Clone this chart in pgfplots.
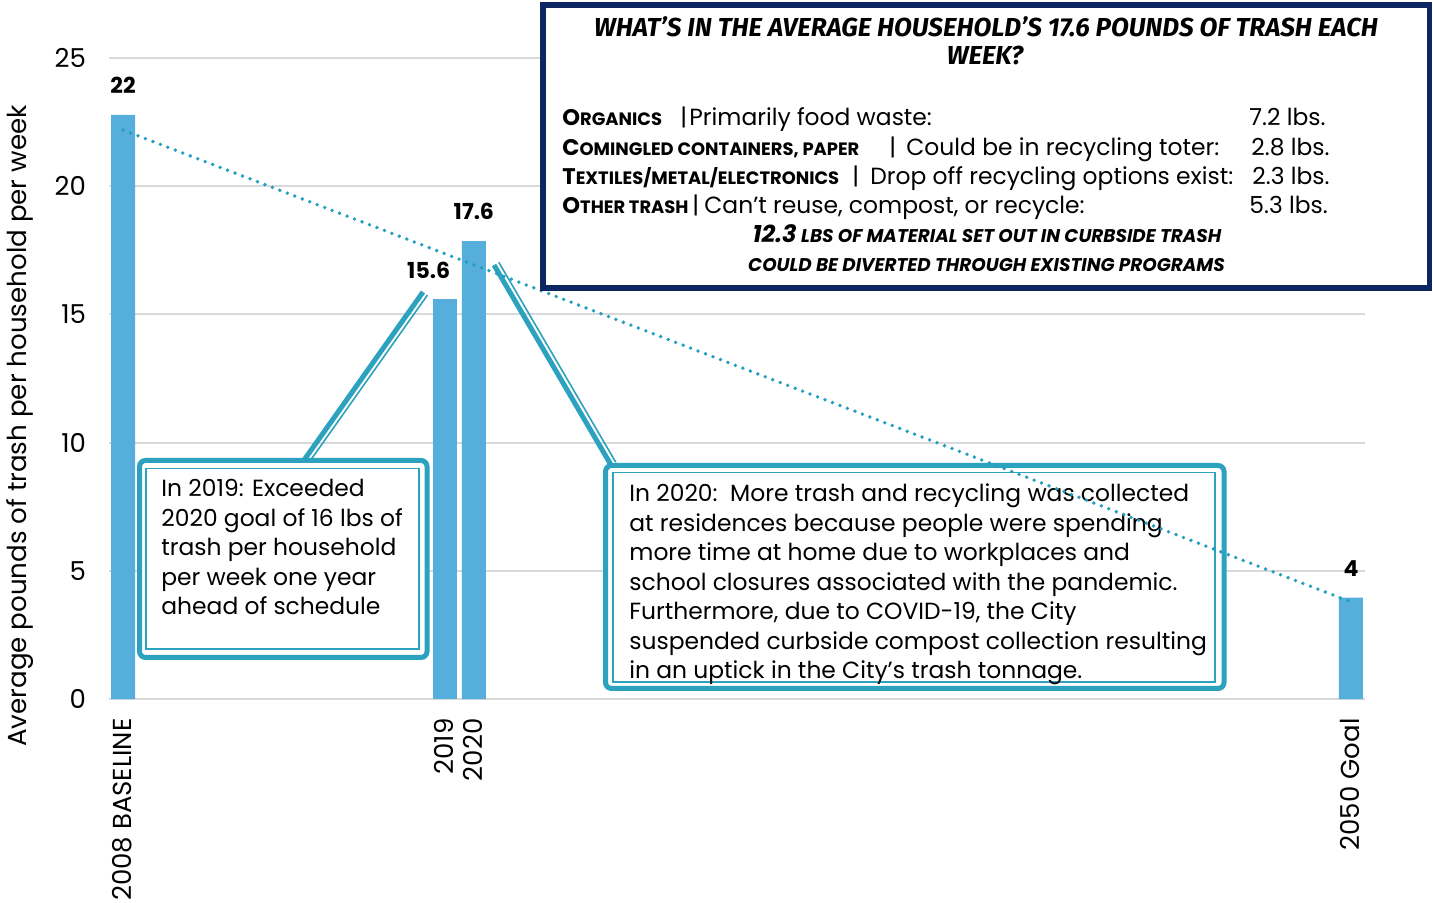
\documentclass[border=0pt]{standalone}
\usepackage{pgfplots}
\pgfplotsset{compat=1.18}
\usepackage{fontspec}
\setmainfont{Poppins}
\newfontfamily\titlefont{Fira Sans}

\definecolor{barblue}{RGB}{86,174,220}
\definecolor{calloutteal}{RGB}{44,162,190}
\definecolor{trendteal}{RGB}{36,158,192}
\definecolor{navy}{RGB}{12,38,100}
\definecolor{gridgray}{RGB}{217,217,217}

\pgfplotsset{
  frame/.style={width=628pt, height=320.5pt, scale only axis,
    xmin=2007.52, xmax=2050.48, ymin=0, ymax=25, enlargelimits=false},
}
\tikzset{
  txt/.style={inner sep=0pt, anchor=base west, font=\fontsize{11.7}{14}\selectfont},
  ctr/.style={inner sep=0pt, anchor=base},
}
% fake small caps: big first letter, smaller rest
\newcommand\scl[2]{{\fontsize{11.3}{12}\selectfont #1}{\fontsize{8.95}{10}\selectfont #2}}

\begin{document}
\begin{tikzpicture}
\begin{axis}[frame,
  ybar, bar width=12pt,
  axis line style={draw=none},
  major tick length=0pt,
  ytick={0,5,...,25},
  ymajorgrids, grid style={gridgray, line width=1pt},
  xtick={2008,2019,2020,2050},
  xticklabels={2008 BASELINE,2019,2020,2050 Goal},
  xticklabel style={xshift=-0.5pt, yshift=-6.25pt, rotate=90, anchor=east, font=\fontsize{13}{15}\selectfont},
  yticklabel style={font=\fontsize{13}{15}\selectfont, xshift=-8pt},
  /pgf/number format/assume math mode=true,
  ylabel={Average pounds of trash per household per week},
  ylabel style={at={(axis description cs:-0.071,0.426)}, anchor=center, font=\fontsize{13.05}{15}\selectfont},
  nodes near coords, point meta=explicit symbolic,
  nodes near coords style={font=\bfseries\fontsize{11}{12}\selectfont, anchor=south, yshift=7pt},
  clip=false,
]
\addplot[fill=barblue, draw=none, bar shift=0pt] coordinates {(2008,22.78) [22] (2020,17.86) [17.6] (2050,3.95) [4]};
\addplot[fill=barblue, draw=none, bar shift=0pt, nodes near coords style={xshift=-8pt}] coordinates {(2019,15.59) [15.6]};
\end{axis}

% callouts, in pixel units of the reference
\begin{scope}[x=0.5pt, y=-0.5pt, shift={(-109,-699)}]
  \draw[calloutteal, line width=2.5pt] (302,463) -- (423,292);
  \draw[calloutteal, line width=0.8pt] (306.5,466) -- (427.5,295);
  \draw[calloutteal, line width=2.5pt] (494,265) -- (611,465);
  \draw[calloutteal, line width=0.8pt] (498.8,262.3) -- (615.8,462.3);

  \draw[calloutteal, line width=2.5pt, fill=white, rounded corners=3pt] (139.5,460.5) rectangle (427,657.5);
  \draw[calloutteal, line width=0.8pt] (146,468.5) rectangle (419,649);
  \node[txt] at (161,497) {In 2019: Exceeded};
  \node[txt] at (161,526.5) {2020 goal of 16 lbs of};
  \node[txt] at (161,556) {trash per household};
  \node[txt] at (161,585.5) {per week one year};
  \node[txt] at (161,615) {ahead of schedule};

  \draw[calloutteal, line width=2.5pt, fill=white, rounded corners=3pt] (605.5,465.5) rectangle (1224,688.5);
  \draw[calloutteal, line width=0.8pt] (613,472.5) rectangle (1215,682);
  \node[txt] at (629,502) {In 2020:\ \ More trash and recycling was collected};
  \node[txt] at (629,531.5) {at residences because people were spending};
  \node[txt] at (629,561) {more time at home due to workplaces and};
  \node[txt] at (629,590.5) {school closures associated with the pandemic.};
  \node[txt] at (629,620) {Furthermore, due to COVID-19, the City};
  \node[txt] at (629,649.5) {suspended curbside compost collection resulting};
  \node[txt] at (629,679) {in an uptick in the City’s trash tonnage.};
\end{scope}

% trend line on top of the callout boxes
\begin{axis}[frame, hide axis, clip=false]
\addplot[trendteal, line width=1.9pt, line cap=round, dash pattern=on 0pt off 4pt, mark=none] coordinates {(2008,22.19) (2050,3.79)};
\end{axis}

% title box
\begin{scope}[x=0.5pt, y=-0.5pt, shift={(-109,-699)}]
  \draw[navy, line width=2.8pt, fill=white] (543,5) rectangle (1429.5,288);
  \node[ctr, font=\titlefont\bfseries\itshape\fontsize{13}{14}\selectfont] at (986,37) {WHAT’S IN THE AVERAGE HOUSEHOLD’S 17.6 POUNDS OF TRASH EACH};
  \node[ctr, font=\titlefont\bfseries\itshape\fontsize{13}{14}\selectfont] at (985,65) {WEEK?};

  \node[txt, font=\bfseries] at (562,126) {\scl{O}{RGANICS}};
  \node[txt] at (680,126) {|};
  \node[txt] at (689,126) {Primarily food waste:};
  \node[txt] at (1249,126) {7.2 lbs.};

  \node[txt, font=\bfseries] at (562,156) {\scl{C}{OMINGLED CONTAINERS, PAPER}};
  \node[txt] at (889,156) {|};
  \node[txt] at (906,156) {Could be in recycling toter:};
  \node[txt] at (1251,156) {2.8 lbs.};

  \node[txt, font=\bfseries] at (562,185) {\scl{T}{EXTILES/METAL/ELECTRONICS}};
  \node[txt] at (852,185) {|};
  \node[txt] at (870,185) {Drop off recycling options exist:};
  \node[txt] at (1252,185) {2.3 lbs.};

  \node[txt, font=\bfseries] at (562,214) {\scl{O}{THER TRASH}};
  \node[txt] at (692,214) {|};
  \node[txt] at (704,214) {Can’t reuse, compost, or recycle:};
  \node[txt] at (1249,214) {5.3 lbs.};

  \node[ctr, font=\bfseries\itshape] at (987,243) {{\fontsize{12}{13}\selectfont 12.3} {\fontsize{9.2}{10}\selectfont LBS OF MATERIAL SET OUT IN CURBSIDE TRASH}};
  \node[ctr, font=\bfseries\itshape\fontsize{9.2}{10}\selectfont] at (986.5,272) {COULD BE DIVERTED THROUGH EXISTING PROGRAMS};
\end{scope}

\pgfresetboundingbox
\useasboundingbox (-54.5pt,-102pt) rectangle (662pt,349.5pt);
\end{tikzpicture}
\end{document}
